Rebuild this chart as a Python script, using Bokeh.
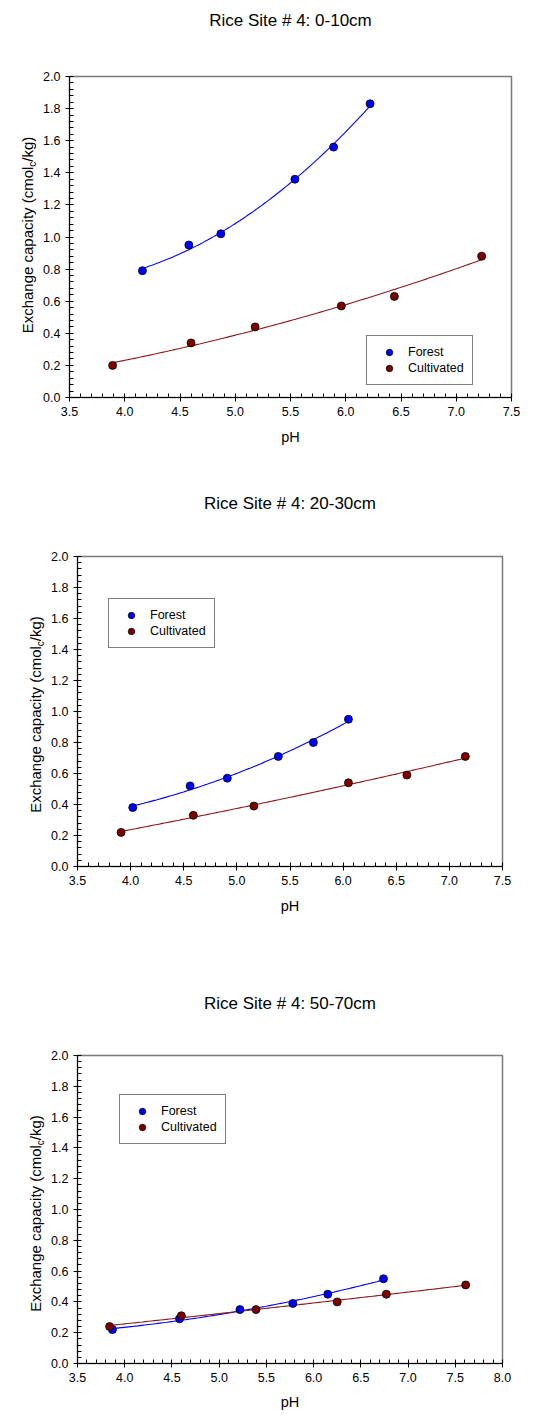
import numpy as np
from bokeh.plotting import figure
from bokeh.models import FixedTicker, Label, Legend, LegendItem, PrintfTickFormatter
from bokeh.layouts import column, row
from bokeh.embed import file_html
from bokeh.resources import INLINE

# ---------------- data ----------------
titles = ["Rice Site # 4: 0-10cm", "Rice Site # 4: 20-30cm", "Rice Site # 4: 50-70cm"]
series_names = ["Forest", "Cultivated"]

forest_ph_0_10 = [4.16, 4.58, 4.87, 5.54, 5.89, 6.22]
forest_ec_0_10 = [0.79, 0.95, 1.02, 1.36, 1.56, 1.83]
cult_ph_0_10 = [3.89, 4.60, 5.18, 5.96, 6.44, 7.23]
cult_ec_0_10 = [0.20, 0.34, 0.44, 0.57, 0.63, 0.88]

forest_ph_20_30 = [4.02, 4.56, 4.91, 5.39, 5.72, 6.05]
forest_ec_20_30 = [0.38, 0.52, 0.57, 0.71, 0.80, 0.95]
cult_ph_20_30 = [3.91, 4.59, 5.16, 6.05, 6.60, 7.15]
cult_ec_20_30 = [0.22, 0.33, 0.39, 0.54, 0.59, 0.71]

forest_ph_50_70 = [3.87, 4.58, 5.22, 5.78, 6.15, 6.74]
forest_ec_50_70 = [0.22, 0.29, 0.35, 0.39, 0.45, 0.55]
cult_ph_50_70 = [3.84, 4.60, 5.39, 6.25, 6.77, 7.61]
cult_ec_50_70 = [0.24, 0.31, 0.35, 0.40, 0.45, 0.51]

x_ticks_a = [3.5, 4.0, 4.5, 5.0, 5.5, 6.0, 6.5, 7.0, 7.5]
x_ticks_b = [3.5, 4.0, 4.5, 5.0, 5.5, 6.0, 6.5, 7.0, 7.5, 8.0]
y_ticks = [0.0, 0.2, 0.4, 0.6, 0.8, 1.0, 1.2, 1.4, 1.6, 1.8, 2.0]
x_label = "pH"
y_label_main = "Exchange capacity (cmol"
y_label_sub = "c"
y_label_end = "/kg)"

# ---------------- style ----------------
FONT = "Liberation Sans"
BLUE = "#0000ff"
RED = "#7f0000"
RED_LINE = "#8b1a1a"
PAGE_W = 535
YLAB_SHIFT = 37


def poly_fit(x, y):
    x = np.asarray(x, float)
    y = np.asarray(y, float)
    c = np.polyfit(x, y, 2)
    xs = np.linspace(x.min(), x.max(), 120)
    return xs, np.polyval(c, xs)


def blank_fig(w, h):
    f = figure(frame_width=w, frame_height=h, x_range=(0, w), y_range=(0, h),
               min_border=0, title=None, x_axis_location=None, y_axis_location=None,
               output_backend="svg", toolbar_location=None,
               background_fill_color="white", border_fill_color="white")
    f.outline_line_color = None
    f.grid.visible = False
    return f


def header(title, h, cx, cy):
    f = blank_fig(PAGE_W, h)
    f.add_layout(Label(x=cx, y=cy, x_units="screen", y_units="screen",
                       text=title, text_align="center", text_baseline="middle",
                       text_font=FONT, text_font_size="17px", text_color="black"))
    return f


def ylabel_fig(w, h, bx, cy):
    f = blank_fig(w, h)
    fs, fs_sub = 15, 10
    w_main = 11.115 * fs
    w_sub = 0.5 * fs_sub
    w_end = 1.667 * fs
    total = w_main + w_sub + w_end
    y0 = cy + YLAB_SHIFT - total / 2
    common = dict(x_units="screen", y_units="screen", angle=np.pi / 2,
                  text_align="left", text_baseline="alphabetic",
                  text_font=FONT, text_color="black")
    f.add_layout(Label(x=bx, y=y0, text=y_label_main, text_font_size=f"{fs}px", **common))
    f.add_layout(Label(x=bx + 5, y=y0 + w_main, text=y_label_sub,
                       text_font_size=f"{fs_sub}px", **common))
    f.add_layout(Label(x=bx, y=y0 + w_main + w_sub, text=y_label_end,
                       text_font_size=f"{fs}px", **common))
    return f


def make_panel(fx, fy, cx, cy, xticks, geom):
    fw, fh = geom["fw"], geom["fh"]
    p = figure(frame_width=fw, frame_height=fh, title=None,
               min_border_left=geom["left"], min_border_right=geom["right"],
               min_border_top=geom["top"], min_border_bottom=geom["bottom"],
               x_range=(xticks[0], xticks[-1]), y_range=(0, 2.0),
               output_backend="svg", toolbar_location=None,
               background_fill_color="white", border_fill_color="white")
    p.xgrid.visible = False
    p.ygrid.visible = False
    p.outline_line_color = "#7a7a7a"
    p.outline_line_width = 1.5

    xminor = [float(v) for v in np.round(np.arange(xticks[0], xticks[-1] + 1e-9, 0.1), 2)]
    yminor = [float(v) for v in np.round(np.arange(0, 2.0 + 1e-9, 0.04), 2)]
    p.xaxis.ticker = FixedTicker(ticks=xticks, minor_ticks=xminor)
    p.yaxis.ticker = FixedTicker(ticks=y_ticks, minor_ticks=yminor)
    p.xaxis.formatter = PrintfTickFormatter(format="%.1f")
    p.yaxis.formatter = PrintfTickFormatter(format="%.1f")
    for ax in (p.xaxis[0], p.yaxis[0]):
        ax.axis_line_color = "black"
        ax.axis_line_width = 1
        ax.major_tick_line_color = "black"
        ax.minor_tick_line_color = "black"
        ax.major_tick_out = 4
        ax.major_tick_in = 0
        ax.minor_tick_out = 0
        ax.minor_tick_in = 4
        ax.major_label_text_font = FONT
        ax.major_label_text_font_size = "12.5px"
        ax.major_label_text_color = "black"
    p.xaxis.major_label_standoff = 5
    p.yaxis.major_label_standoff = 5
    p.xaxis.axis_label = x_label
    p.xaxis.axis_label_text_font = FONT
    p.xaxis.axis_label_text_font_size = "14.5px"
    p.xaxis.axis_label_text_font_style = "normal"
    p.xaxis.axis_label_text_color = "black"
    p.xaxis.axis_label_standoff = geom.get("xlab_standoff", 10)

    xs, ys = poly_fit(fx, fy)
    p.line(xs, ys, line_color=BLUE, line_width=1.1)
    xs, ys = poly_fit(cx, cy)
    p.line(xs, ys, line_color=RED_LINE, line_width=1.1)

    rf = p.scatter(fx, fy, size=8, fill_color=BLUE, line_color="black", line_width=0.8)
    rc = p.scatter(cx, cy, size=8, fill_color=RED, line_color="black", line_width=0.8)

    legend = Legend(items=[LegendItem(label=series_names[0], renderers=[rf]),
                           LegendItem(label=series_names[1], renderers=[rc])],
                    location=geom["legend"], margin=0, padding=8, spacing=0,
                    glyph_width=28, glyph_height=16, label_height=16,
                    label_standoff=5,
                    label_text_font=FONT, label_text_font_size="12.5px",
                    label_text_color="black",
                    border_line_color="black", border_line_width=1,
                    background_fill_color="white", background_fill_alpha=1.0)
    p.add_layout(legend)
    return p


# panel 1 (page y: header 0-38, row 38-490)
g1 = dict(fw=442, fh=321, left=31, right=24, top=38, bottom=93, legend=(297, 12))
h1 = header(titles[0], 38, 290, 18)
y1 = ylabel_fig(38, 38 + 321 + 93, 27, 93 + 321 / 2 + 3)
p1 = make_panel(forest_ph_0_10, forest_ec_0_10, cult_ph_0_10, cult_ec_0_10, x_ticks_a, g1)

# panel 2 (header 490-516, row 516-990)
g2 = dict(fw=425, fh=310, left=31, right=33, top=40, bottom=124, legend=(31, 218))
h2 = header(titles[1], 26, 289.5, 13)
y2 = ylabel_fig(46, 40 + 310 + 124, 34.5, 124 + 310 / 2)
p2 = make_panel(forest_ph_20_30, forest_ec_20_30, cult_ph_20_30, cult_ec_20_30, x_ticks_a, g2)

# panel 3 (header 990-1014, row 1014-1413)
g3 = dict(fw=425, fh=308, left=31, right=33, top=41, bottom=50, legend=(42, 219),
          xlab_standoff=9)
h3 = header(titles[2], 24, 289.5, 11)
y3 = ylabel_fig(46, 41 + 308 + 50, 34.5, 50 + 308 / 2)
p3 = make_panel(forest_ph_50_70, forest_ec_50_70, cult_ph_50_70, cult_ec_50_70, x_ticks_b, g3)

layout = column(h1, row(y1, p1, spacing=0), h2, row(y2, p2, spacing=0),
                h3, row(y3, p3, spacing=0), spacing=0)
open("out.html", "w").write(file_html(layout, INLINE))
